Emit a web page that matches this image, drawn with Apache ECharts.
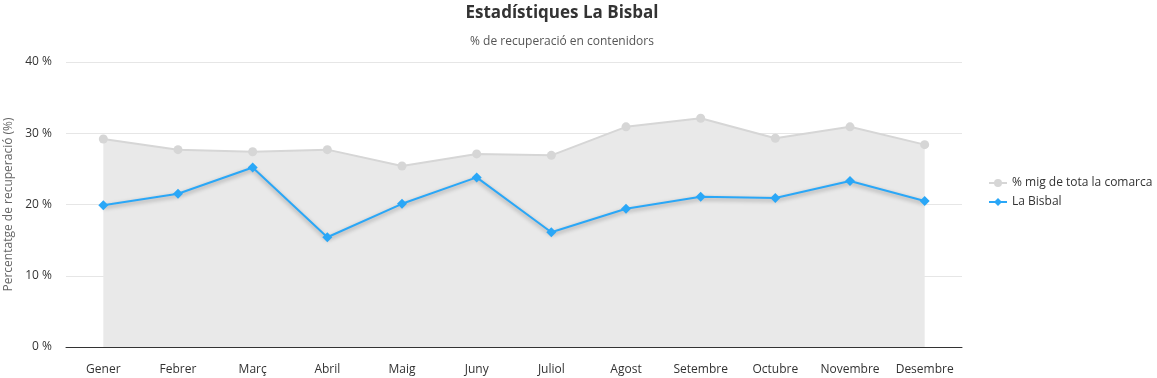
<!DOCTYPE html>
<html>
<head>
<meta charset="utf-8">
<script src="https://cdn.jsdelivr.net/npm/echarts@6/dist/echarts.min.js"></script>
<style>
  html, body { margin: 0; padding: 0; background: #fff; }
  #chart { width: 1157px; height: 378px; }
</style>
</head>
<body>
<div id="chart"></div>
<script>
var mesos = ['Gener', 'Febrer', 'Març', 'Abril', 'Maig', 'Juny', 'Juliol', 'Agost', 'Setembre', 'Octubre', 'Novembre', 'Desembre'];
var comarca = [29.2, 27.7, 27.4, 27.7, 25.4, 27.1, 26.9, 30.9, 32.1, 29.3, 30.9, 28.4];
var bisbal = [19.9, 21.5, 25.2, 15.4, 20.1, 23.8, 16.1, 19.4, 21.1, 20.9, 23.3, 20.5];
var yTicks = [0, 10, 20, 30, 40];

var font = '"Open Sans", "Noto Sans", sans-serif';
var myChart = echarts.init(document.getElementById('chart'));

var option = {
  animation: false,
  textStyle: { fontFamily: font },
  title: {
    text: 'Estadístiques La Bisbal',
    subtext: '% de recuperació en contenidors',
    left: 557,
    textAlign: 'center',
    top: 0,
    itemGap: 14,
    textStyle: { fontSize: 17, fontWeight: 'bold', color: '#333', fontFamily: font },
    subtextStyle: { fontSize: 12, color: '#555', fontFamily: font }
  },
  legend: {
    orient: 'vertical',
    left: 983,
    top: 172,
    itemWidth: 18,
    itemHeight: 10,
    itemGap: 7,
    textStyle: { fontSize: 12, color: '#333', fontFamily: font },
    data: ['% mig de tota la comarca', 'La Bisbal']
  },
  grid: {
    left: 66,
    right: 195,
    top: 62,
    bottom: 31,
    outerBoundsMode: 'none',
    containLabel: false
  },
  xAxis: {
    type: 'category',
    data: mesos,
    boundaryGap: true,
    axisTick: { show: false },
    axisLine: { lineStyle: { color: '#333', width: 1 } },
    axisLabel: { color: '#333', fontSize: 12, margin: 17, interval: 0 }
  },
  yAxis: {
    type: 'value',
    min: yTicks[0],
    max: yTicks[yTicks.length - 1],
    interval: 10,
    name: 'Percentatge de recuperació (%)',
    nameLocation: 'middle',
    nameGap: 51,
    nameTextStyle: { color: '#666', fontSize: 12 },
    axisLabel: { color: '#333', fontSize: 12, formatter: '{value} %', margin: 14 },
    axisLine: { show: false },
    axisTick: { show: false },
    splitLine: { lineStyle: { color: '#e6e6e6' } }
  },
  series: [
    {
      name: '% mig de tota la comarca',
      type: 'line',
      data: comarca,
      symbol: 'circle',
      symbolSize: 9,
      z: 1,
      itemStyle: { color: '#d6d6d6' },
      lineStyle: { color: '#d6d6d6', width: 2 },
      areaStyle: { color: '#e9e9e9', opacity: 1 }
    },
    {
      name: 'La Bisbal',
      type: 'line',
      data: bisbal,
      symbol: 'diamond',
      symbolSize: 10,
      z: 3,
      itemStyle: { color: '#2aa7f7' },
      lineStyle: {
        color: '#2aa7f7',
        width: 2,
        shadowColor: 'rgba(0,0,0,0.35)',
        shadowBlur: 4,
        shadowOffsetY: 2
      }
    }
  ]
};
myChart.setOption(option);
</script>
</body>
</html>
